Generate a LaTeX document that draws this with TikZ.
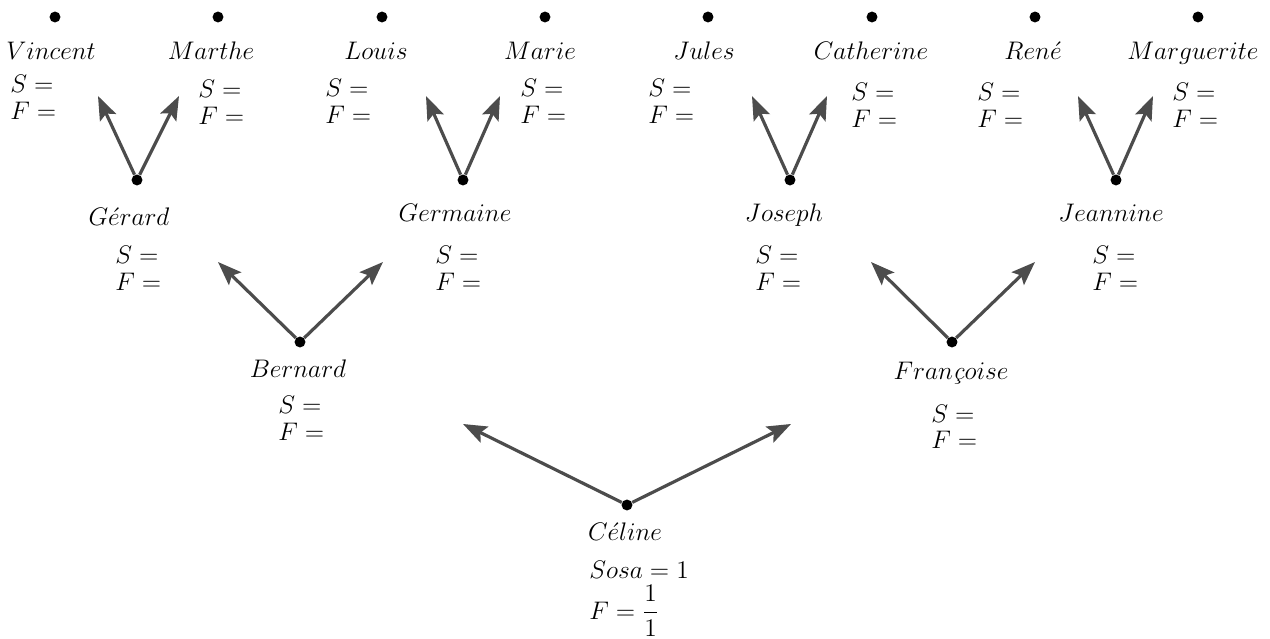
\documentclass[tikz,border=0pt]{standalone}
\usetikzlibrary{arrows.meta}
\begin{document}
\begin{tikzpicture}[x=0.5669pt,y=-0.5669pt,
  font=\fontsize{14.4}{17}\selectfont,
  pdot/.style={circle,fill=black,inner sep=0pt,minimum size=6.2pt},
  pname/.style={inner sep=0pt,anchor=base},
  sfl/.style={inner sep=0pt,anchor=base west},
  arr/.style={-{Stealth[length=13.5pt,width=10pt,inset=2.5pt]},line width=1.8pt,draw=black!70}]
\useasboundingbox (0,0) rectangle (1270,639);
% top generation
\node[pdot] (d1) at (55,17) {};
\node[pdot] (d2) at (218,17) {};
\node[pdot] (d3) at (382,17) {};
\node[pdot] (d4) at (545,17) {};
\node[pdot] (d5) at (708,17) {};
\node[pdot] (d6) at (872,17) {};
\node[pdot] (d7) at (1035,17) {};
\node[pdot] (d8) at (1198,17) {};
\node[pname] (n1) at (51,60) {$Vincent$};
\node[pname] (n2) at (211,60) {$Marthe$};
\node[pname] (n3) at (376,60) {$Louis$};
\node[pname] (n4) at (540,60) {$Marie$};
\node[pname] (n5) at (704,60) {$Jules$};
\node[pname] (n6) at (871,60) {$Catherine$};
\node[pname] (n7) at (1033,60) {$Ren\acute{e}$};
\node[pname] (n8) at (1193,60) {$Marguerite$};
\node[sfl] (s1) at (10,93) {$S=$};   \node[sfl] (f1) at (10,120) {$F=$};
\node[sfl] (s2) at (198,98) {$S=$};  \node[sfl] (f2) at (198,125) {$F=$};
\node[sfl] (s3) at (325,97) {$S=$};  \node[sfl] (f3) at (325,124) {$F=$};
\node[sfl] (s4) at (520,97) {$S=$};  \node[sfl] (f4) at (520,124) {$F=$};
\node[sfl] (s5) at (648,97) {$S=$};  \node[sfl] (f5) at (648,124) {$F=$};
\node[sfl] (s6) at (851,101) {$S=$}; \node[sfl] (f6) at (851,128) {$F=$};
\node[sfl] (s7) at (977,101) {$S=$}; \node[sfl] (f7) at (977,128) {$F=$};
\node[sfl] (s8) at (1172,101) {$S=$};\node[sfl] (f8) at (1172,128) {$F=$};
% grandparents
\node[pdot] (g1) at (137,180) {};
\node[pdot] (g2) at (463,180) {};
\node[pdot] (g3) at (790,180) {};
\node[pdot] (g4) at (1116,180) {};
\node[pname] (m1) at (129,226) {$G\acute{e}rard$};
\node[pname] (m2) at (455,222) {$Germaine$};
\node[pname] (m3) at (784,222) {$Joseph$};
\node[pname] (m4) at (1111,222) {$Jeannine$};
\node[sfl] (gs1) at (115,264) {$S=$};  \node[sfl] (gf1) at (115,291) {$F=$};
\node[sfl] (gs2) at (435,264) {$S=$};  \node[sfl] (gf2) at (435,291) {$F=$};
\node[sfl] (gs3) at (755,264) {$S=$};  \node[sfl] (gf3) at (755,291) {$F=$};
\node[sfl] (gs4) at (1092,264) {$S=$}; \node[sfl] (gf4) at (1092,291) {$F=$};
\coordinate (t1) at (98,96);  \coordinate (t2) at (179,96);
\coordinate (t3) at (426,96); \coordinate (t4) at (500,96);
\coordinate (t5) at (752,96); \coordinate (t6) at (827,96);
\coordinate (t7) at (1078,96);\coordinate (t8) at (1153,96);
\draw[arr] (g1) -- (t1); \draw[arr] (g1) -- (t2);
\draw[arr] (g2) -- (t3); \draw[arr] (g2) -- (t4);
\draw[arr] (g3) -- (t5); \draw[arr] (g3) -- (t6);
\draw[arr] (g4) -- (t7); \draw[arr] (g4) -- (t8);
% parents
\node[pdot] (p1) at (300,342) {};
\node[pdot] (p2) at (952,342) {};
\node[pname] (q1) at (298,378) {$Bernard$};
\node[pname] (q2) at (951,380) {$Fran$\textit{ç}$oise$};
\node[sfl] (ps1) at (278,413) {$S=$}; \node[sfl] (pf1) at (278,440) {$F=$};
\node[sfl] (ps2) at (931,422) {$S=$}; \node[sfl] (pf2) at (931,449) {$F=$};
\coordinate (u1) at (218,262); \coordinate (u2) at (383,262);
\coordinate (u3) at (871,262); \coordinate (u4) at (1035,262);
\draw[arr] (p1) -- (u1); \draw[arr] (p1) -- (u2);
\draw[arr] (p2) -- (u3); \draw[arr] (p2) -- (u4);
% subject
\node[pdot] (c) at (627,505) {};
\node[pname] (cn) at (625,540) {$C\acute{e}line$};
\node[sfl] (cs) at (589,578) {$Sosa=1$};
\node[sfl] (cf) at (589,619) {$\displaystyle F=\frac{1}{1}$};
\coordinate (v1) at (463,424); \coordinate (v2) at (791,424);
\draw[arr] (c) -- (v1); \draw[arr] (c) -- (v2);
\end{tikzpicture}
\end{document}
